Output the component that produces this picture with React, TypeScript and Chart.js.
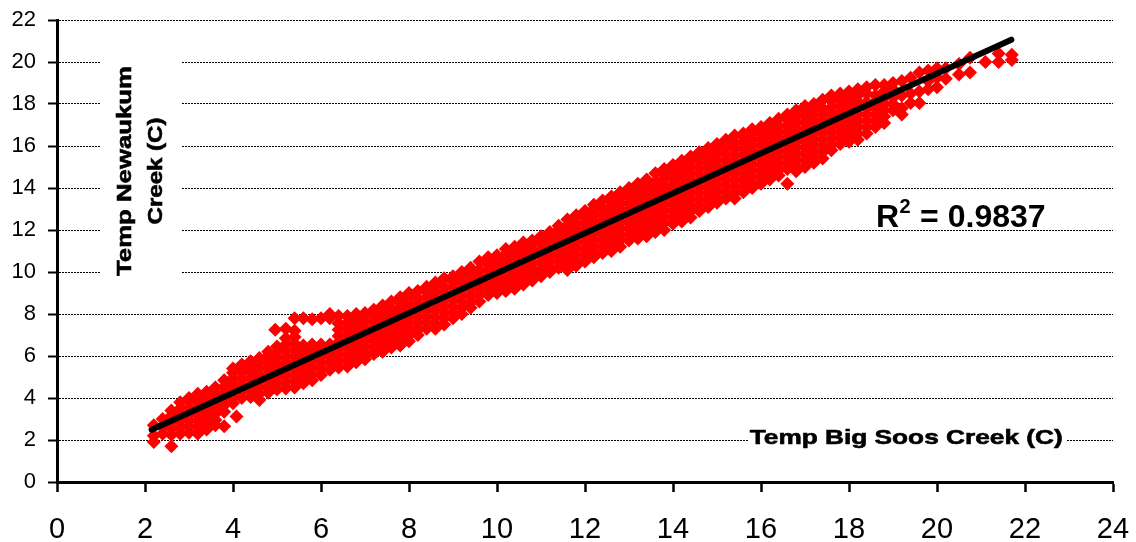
import React, { useEffect, useRef } from "react";
import { Chart, registerables } from "chart.js";

Chart.register(...registerables);

// Big Soos Creek temperature (x) columns
const bigSoosTemp = [
  2.2, 2.4, 2.6, 2.8, 3.0, 3.2, 3.4, 3.6, 3.8, 4.0,
  4.2, 4.4, 4.6, 4.8, 5.0, 5.2, 5.4, 5.6, 5.8, 6.0,
  6.2, 6.4, 6.6, 6.8, 7.0, 7.2, 7.4, 7.6, 7.8, 8.0,
  8.2, 8.4, 8.6, 8.8, 9.0, 9.2, 9.4, 9.6, 9.8, 10.0,
  10.2, 10.4, 10.6, 10.8, 11.0, 11.2, 11.4, 11.6, 11.8, 12.0,
  12.2, 12.4, 12.6, 12.8, 13.0, 13.2, 13.4, 13.6, 13.8, 14.0,
  14.2, 14.4, 14.6, 14.8, 15.0, 15.2, 15.4, 15.6, 15.8, 16.0,
  16.2, 16.4, 16.6, 16.8, 17.0, 17.2, 17.4, 17.6, 17.8, 18.0,
  18.2, 18.4, 18.6, 18.8, 19.0, 19.2, 19.4, 19.6, 19.8, 20.0,
  20.2, 20.5, 20.75, 21.1, 21.4, 21.7,
];

// Newaukum Creek temperature (y) readings at each Big Soos column
const newaukumTemp = [
  [1.9, 2.2, 2.7],
  [2.3, 2.65, 3.0],
  [1.7, 2.25, 2.55, 2.85, 3.15, 3.4],
  [2.3, 2.6, 2.9, 3.2, 3.5, 3.8],
  [2.35, 2.65, 2.95, 3.25, 3.55, 3.85, 4.0],
  [2.3, 2.6, 2.9, 3.2, 3.5, 3.8, 4.1, 4.2],
  [2.5, 2.8, 3.1, 3.4, 3.7, 4.0, 4.3],
  [2.7, 2.95, 3.25, 3.55, 3.85, 4.15, 4.5],
  [2.65, 3.35, 3.65, 3.95, 4.25, 4.55, 4.85],
  [3.75, 4.05, 4.35, 4.65, 4.95, 5.2, 5.4],
  [4.0, 4.3, 4.6, 4.9, 5.2, 5.45, 5.6],
  [4.05, 4.35, 4.65, 4.95, 5.25, 5.55, 5.75],
  [3.9, 4.2, 4.5, 4.8, 5.1, 5.4, 5.7, 5.9],
  [4.25, 4.55, 4.85, 5.15, 5.45, 5.75, 6.0, 6.2],
  [4.4, 4.7, 5.0, 5.3, 5.6, 5.9, 6.2, 6.45],
  [4.45, 4.75, 5.05, 5.35, 5.65, 5.95, 6.25, 6.55, 6.85, 7.3],
  [4.5, 4.8, 5.1, 5.4, 5.7, 6.0, 6.3, 6.6, 6.9, 7.2, 7.8],
  [4.7, 5.0, 5.3, 5.6, 5.9, 6.2, 6.5, 7.8],
  [4.85, 5.15, 5.45, 5.75, 6.05, 6.35, 6.55, 7.75],
  [5.1, 5.4, 5.7, 6.0, 6.3, 6.55, 7.8],
  [5.35, 5.65, 5.95, 6.25, 6.55, 7.8, 8.0],
  [5.45, 5.75, 6.05, 6.35, 6.65, 6.95, 7.25, 7.55, 7.9],
  [5.5, 5.8, 6.1, 6.4, 6.7, 7.0, 7.3, 7.6, 7.9],
  [5.7, 6.0, 6.3, 6.6, 6.9, 7.2, 7.5, 7.8, 8.0],
  [5.85, 6.15, 6.45, 6.75, 7.05, 7.35, 7.65, 7.95, 8.05],
  [6.1, 6.4, 6.7, 7.0, 7.3, 7.6, 7.9, 8.2],
  [6.2, 6.55, 6.85, 7.15, 7.45, 7.75, 8.05, 8.4],
  [6.4, 6.7, 7.0, 7.3, 7.6, 7.9, 8.2, 8.6],
  [6.5, 6.85, 7.15, 7.45, 7.75, 8.05, 8.35, 8.6, 8.8],
  [6.7, 7.0, 7.3, 7.6, 7.9, 8.2, 8.5, 8.8, 9.0],
  [7.0, 7.25, 7.55, 7.85, 8.15, 8.45, 8.75, 9.1],
  [7.3, 7.6, 7.9, 8.2, 8.5, 8.8, 9.05, 9.3],
  [7.3, 7.55, 7.85, 8.15, 8.45, 8.75, 9.05, 9.3, 9.5],
  [7.5, 7.8, 8.1, 8.4, 8.7, 9.0, 9.3, 9.7],
  [7.8, 8.05, 8.35, 8.65, 8.95, 9.25, 9.55, 9.8],
  [8.0, 8.3, 8.6, 8.9, 9.2, 9.5, 9.8, 10.0],
  [8.3, 8.55, 8.85, 9.15, 9.45, 9.75, 10.0, 10.2],
  [8.6, 8.9, 9.2, 9.5, 9.8, 10.1, 10.5],
  [8.9, 9.15, 9.45, 9.75, 10.05, 10.35, 10.7],
  [9.0, 9.3, 9.6, 9.9, 10.2, 10.5, 10.8],
  [9.1, 9.4, 9.7, 10.0, 10.3, 10.6, 10.85, 11.1],
  [9.2, 9.55, 9.85, 10.15, 10.45, 10.75, 11.0, 11.2],
  [9.4, 9.7, 10.0, 10.3, 10.6, 10.9, 11.2, 11.4],
  [9.6, 9.85, 10.15, 10.45, 10.75, 11.05, 11.3, 11.5],
  [9.8, 10.1, 10.4, 10.7, 11.0, 11.3, 11.55, 11.7],
  [10.0, 10.25, 10.55, 10.85, 11.15, 11.45, 11.7, 11.9],
  [10.2, 10.5, 10.8, 11.1, 11.4, 11.7, 12.0, 12.2],
  [10.1, 10.4, 10.7, 11.0, 11.3, 11.6, 11.9, 12.2, 12.5],
  [10.3, 10.55, 10.85, 11.15, 11.45, 11.75, 12.05, 12.35, 12.7],
  [10.5, 10.8, 11.1, 11.4, 11.7, 12.0, 12.3, 12.6, 12.9],
  [10.7, 10.95, 11.25, 11.55, 11.85, 12.15, 12.45, 12.75, 13.0, 13.2],
  [10.9, 11.2, 11.5, 11.8, 12.1, 12.4, 12.7, 13.0, 13.4],
  [11.0, 11.35, 11.65, 11.95, 12.25, 12.55, 12.85, 13.15, 13.4, 13.6],
  [11.2, 11.5, 11.8, 12.1, 12.4, 12.7, 13.0, 13.3, 13.55, 13.8],
  [11.5, 11.75, 12.05, 12.35, 12.65, 12.95, 13.25, 13.55, 13.8, 14.0],
  [11.6, 11.9, 12.2, 12.5, 12.8, 13.1, 13.4, 13.7, 14.0, 14.2],
  [11.7, 12.05, 12.35, 12.65, 12.95, 13.25, 13.55, 13.85, 14.15, 14.4],
  [11.9, 12.2, 12.5, 12.8, 13.1, 13.4, 13.7, 14.0, 14.3, 14.7],
  [12.0, 12.35, 12.65, 12.95, 13.25, 13.55, 13.85, 14.15, 14.45, 14.7, 14.9],
  [12.3, 12.6, 12.9, 13.2, 13.5, 13.8, 14.1, 14.4, 14.7, 14.9, 15.1],
  [12.4, 12.75, 13.05, 13.35, 13.65, 13.95, 14.25, 14.55, 14.85, 15.1, 15.3],
  [12.6, 12.9, 13.2, 13.5, 13.8, 14.1, 14.4, 14.7, 15.0, 15.3, 15.5],
  [12.9, 13.15, 13.45, 13.75, 14.05, 14.35, 14.65, 14.95, 15.25, 15.5, 15.7],
  [13.1, 13.4, 13.7, 14.0, 14.3, 14.6, 14.9, 15.2, 15.5, 15.7, 15.9],
  [13.3, 13.55, 13.85, 14.15, 14.45, 14.75, 15.05, 15.35, 15.65, 15.9, 16.1],
  [13.5, 13.8, 14.1, 14.4, 14.7, 15.0, 15.3, 15.6, 15.9, 16.1, 16.3],
  [13.5, 13.75, 14.05, 14.35, 14.65, 14.95, 15.25, 15.55, 15.85, 16.15, 16.5],
  [13.8, 14.1, 14.4, 14.7, 15.0, 15.3, 15.6, 15.9, 16.2, 16.45, 16.6],
  [14.0, 14.25, 14.55, 14.85, 15.15, 15.45, 15.75, 16.05, 16.35, 16.6, 16.8],
  [14.2, 14.5, 14.8, 15.1, 15.4, 15.7, 16.0, 16.3, 16.6, 16.9],
  [14.4, 14.7, 15.0, 15.3, 15.6, 15.9, 16.2, 16.5, 16.8, 17.1],
  [14.6, 14.85, 15.15, 15.45, 15.75, 16.05, 16.35, 16.65, 16.95, 17.3],
  [14.2, 14.9, 15.2, 15.5, 15.8, 16.1, 16.4, 16.7, 17.0, 17.25, 17.5],
  [14.8, 15.05, 15.35, 15.65, 15.95, 16.25, 16.55, 16.85, 17.15, 17.45, 17.7],
  [15.0, 15.3, 15.6, 15.9, 16.2, 16.5, 16.8, 17.1, 17.4, 17.7, 17.9],
  [15.2, 15.45, 15.75, 16.05, 16.35, 16.65, 16.95, 17.25, 17.55, 17.8, 18.0],
  [15.4, 15.7, 16.0, 16.3, 16.6, 16.9, 17.2, 17.5, 17.8, 18.2],
  [15.8, 16.05, 16.35, 16.65, 16.95, 17.25, 17.55, 17.85, 18.15, 18.4],
  [16.1, 16.4, 16.7, 17.0, 17.3, 17.6, 17.9, 18.2, 18.5],
  [16.2, 16.5, 16.8, 17.1, 17.4, 17.7, 18.0, 18.3, 18.6],
  [16.3, 16.6, 16.9, 17.2, 17.5, 17.8, 18.1, 18.4, 18.7],
  [16.6, 16.9, 17.2, 17.5, 17.8, 18.1, 18.5, 18.8],
  [16.9, 17.2, 17.5, 17.8, 18.1, 18.4, 18.9],
  [17.1, 17.4, 17.7, 18.0, 18.3, 18.6, 18.9],
  [17.7, 18.0, 18.3, 18.7, 19.0],
  [17.5, 17.8, 18.4, 19.1],
  [18.05, 18.5, 19.25],
  [18.05, 18.6, 19.5],
  [18.7, 19.1, 19.6],
  [18.8, 19.25, 19.7],
  [19.2, 19.7],
  [19.4, 19.9],
  [19.5, 20.2],
  [20.0],
  [20.0, 20.4],
  [20.1, 20.35],
];

// isolated readings
const outlierBigSoos = [4.08, 4.96];
const outlierNewaukum = [3.12, 7.25];

// linear trend line end points
const trendBigSoos = [2.15, 21.69];
const trendNewaukum = [2.49, 21.06];

const rSquaredValue = "0.9837";
const xAxisTitle = "Temp Big Soos Creek (C)";
const yAxisTitleLines = ["Temp Newaukum", "Creek (C)"];

const FONT = '"Liberation Sans", Arial, Helvetica, sans-serif';

export default function App() {
  const canvasRef = useRef<HTMLCanvasElement | null>(null);

  useEffect(() => {
    document.body.style.margin = "0";
    const canvas = canvasRef.current;
    if (!canvas) return;

    const scatterPoints: { x: number; y: number }[] = [];
    bigSoosTemp.forEach((x, i) => {
      (newaukumTemp[i] || []).forEach((y) => scatterPoints.push({ x, y }));
    });
    outlierBigSoos.forEach((x, i) => scatterPoints.push({ x, y: outlierNewaukum[i] }));

    const trendPoints = trendBigSoos.map((x, i) => ({ x, y: trendNewaukum[i] }));

    const drawStretched = (
      ctx: CanvasRenderingContext2D,
      text: string,
      targetWidth: number
    ) => {
      const w = ctx.measureText(text).width;
      const s = targetWidth / w;
      ctx.save();
      ctx.scale(s, 1);
      ctx.textAlign = "center";
      ctx.fillText(text, 0, 0);
      ctx.lineWidth = 0.6;
      ctx.strokeStyle = "#000";
      ctx.strokeText(text, 0, 0);
      ctx.restore();
    };

    const annotations = {
      id: "annotations",
      afterDraw(chart: any) {
        const ctx: CanvasRenderingContext2D = chart.ctx;
        const xs = chart.scales.x;
        const ys = chart.scales.y;
        ctx.save();
        ctx.fillStyle = "#000";
        ctx.textBaseline = "alphabetic";

        // Y title with white background
        ctx.fillStyle = "#fff";
        ctx.fillRect(100, 40, 81, 255);
        ctx.fillStyle = "#000";
        ctx.font = `bold 21px ${FONT}`;
        const cy = 171;
        ctx.save();
        ctx.translate(130.5, cy);
        ctx.rotate(-Math.PI / 2);
        drawStretched(ctx, yAxisTitleLines[0], 210);
        ctx.restore();
        ctx.save();
        ctx.translate(162, cy);
        ctx.rotate(-Math.PI / 2);
        drawStretched(ctx, yAxisTitleLines[1], 107);
        ctx.restore();

        // X title with white background
        const gy = ys.getPixelForValue(2);
        ctx.fillStyle = "#fff";
        ctx.fillRect(748, gy - 14, 319, 26);
        ctx.fillStyle = "#000";
        ctx.font = `bold 21px ${FONT}`;
        ctx.save();
        ctx.translate(xs.getPixelForValue(19.3), gy + 3.5);
        drawStretched(ctx, xAxisTitle, 313);
        ctx.restore();

        // R squared
        const rx = 876;
        const ry = 226.5;
        ctx.textAlign = "left";
        ctx.font = `bold 32px ${FONT}`;
        ctx.fillText("R", rx, ry);
        const rW = ctx.measureText("R").width;
        ctx.font = `bold 20px ${FONT}`;
        ctx.fillText("2", rx + rW + 0.5, ry - 13.5);
        const supW = ctx.measureText("2").width;
        ctx.font = `bold 32px ${FONT}`;
        ctx.fillText(" = " + rSquaredValue, rx + rW + supW + 1, ry);
        ctx.restore();
      },
    };

    const chart = new Chart(canvas, {
      type: "scatter",
      data: {
        datasets: [
          {
            label: "Linear trend",
            data: trendPoints,
            showLine: true,
            borderColor: "#000",
            borderWidth: 6,
            borderCapStyle: "round",
            pointRadius: 0,
            order: 0,
          } as any,
          {
            label: "Temperature",
            data: scatterPoints,
            backgroundColor: "#FF0000",
            borderColor: "#FF0000",
            borderWidth: 0,
            pointStyle: "rectRot",
            pointRadius: 7,
            order: 1,
          } as any,
        ],
      },
      options: {
        responsive: false,
        animation: false,
        events: [],
        layout: { padding: { left: 0, right: 23, top: 20, bottom: 0 } },
        plugins: {
          legend: { display: false },
          tooltip: { enabled: false },
          title: { display: false },
        },
        scales: {
          x: {
            type: "linear",
            position: "bottom",
            min: 0,
            max: 24,
            ticks: {
              stepSize: 2,
              color: "#000",
              font: { family: FONT, size: 29 },
              padding: 21,
              maxRotation: 0,
              autoSkip: false,
            },
            grid: {
              display: true,
              drawOnChartArea: false,
              drawTicks: true,
              tickLength: 10,
              tickColor: "#000",
              tickWidth: 2.5,
            },
            border: { display: true, color: "#000", width: 3 },
            afterFit: (s: any) => {
              s.height = 60;
              s.paddingLeft = 0;
              s.paddingRight = 0;
            },
          },
          y: {
            type: "linear",
            min: 0,
            max: 22,
            ticks: {
              stepSize: 2,
              color: "#000",
              font: { family: FONT, size: 22 },
              padding: 12,
            },
            grid: {
              display: true,
              color: "#000",
              lineWidth: 1,
              drawTicks: true,
              tickLength: 9,
              tickColor: "#000",
              tickWidth: 2,
              tickBorderDash: [],
            },
            border: { display: true, color: "#000", width: 3, dash: [2, 1] },
            afterFit: (s: any) => {
              s.width = 57;
              s.paddingTop = 0;
              s.paddingBottom = 0;
            },
          },
        } as any,
      },
      plugins: [annotations],
    });

    return () => chart.destroy();
  }, []);

  return (
    <div style={{ width: 1136, height: 542 }}>
      <canvas
        ref={canvasRef}
        width={1136}
        height={542}
        style={{ display: "block", width: 1136, height: 542 }}
      />
    </div>
  );
}
